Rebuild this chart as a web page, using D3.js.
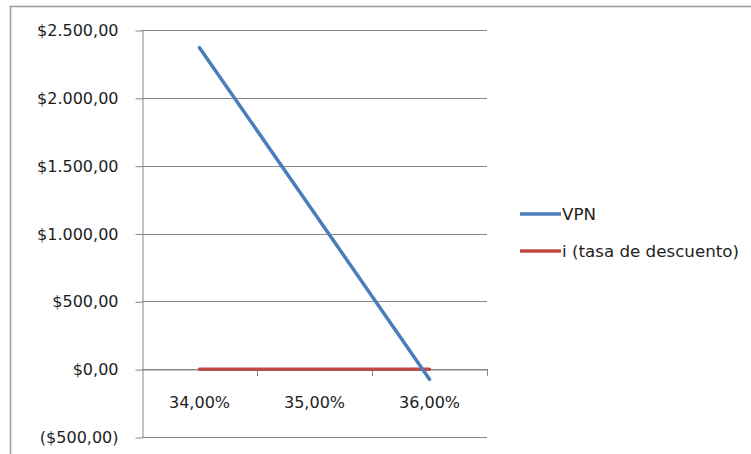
<!DOCTYPE html>
<html>
<head>
<meta charset="utf-8">
<script src="https://cdn.jsdelivr.net/npm/d3@7"></script>
<style>
  body { margin: 0; background: #fff; }
  svg text { font-family: "DejaVu Sans", sans-serif; fill: #1e1e1e; }
</style>
</head>
<body>
<div id="chart"></div>
<script>
// chart data
const categories = ['34,00%', '35,00%', '36,00%'];
const vpnValues = [2370, 1150, -75];
const rateValues = [0, 0, 0];
const yTicks = [-500, 0, 500, 1000, 1500, 2000, 2500];
const seriesNames = ['VPN', 'i (tasa de descuento)'];

const width = 751;
const height = 454;

const svg = d3.select('#chart')
  .append('svg')
  .attr('width', width)
  .attr('height', height);

// outer chart border (runs off the right and bottom edge)
svg.append('rect')
  .attr('x', 10.5)
  .attr('y', 6.5)
  .attr('width', 800)
  .attr('height', 500)
  .attr('fill', 'none')
  .attr('stroke', '#9a9a9a')
  .attr('stroke-width', 1.5);

const plot = { left: 142, right: 487, top: 30, bottom: 437 };

const x = d3.scaleBand()
  .domain(categories)
  .range([plot.left, plot.right]);

const y = d3.scaleLinear()
  .domain([-500, 2500])
  .range([plot.bottom, plot.top]);

const fmtMoney = v => {
  const s = '$' + d3.format(',.2f')(Math.abs(v)).replace(/,/g, '#').replace('.', ',').replace(/#/g, '.');
  return v < 0 ? '(' + s + ')' : s;
};

// horizontal gridlines
svg.append('g')
  .selectAll('line')
  .data(yTicks)
  .enter()
  .append('line')
  .attr('x1', plot.left)
  .attr('x2', plot.right)
  .attr('y1', d => Math.round(y(d)) + 0.5)
  .attr('y2', d => Math.round(y(d)) + 0.5)
  .attr('stroke', '#878787')
  .attr('stroke-width', 1);

// y axis
const yAxis = svg.append('g')
  .attr('transform', 'translate(' + (plot.left + 0.5) + ',0)')
  .call(d3.axisLeft(y).tickValues(yTicks).tickFormat(fmtMoney).tickSizeInner(7).tickSizeOuter(0).tickPadding(17));
yAxis.selectAll('path, line').attr('stroke', '#878787');
yAxis.selectAll('line').attr('transform', 'translate(0,0.5)');
yAxis.selectAll('text').style('font-size', '16px').attr('dy', '0.35em');

// x axis sits on zero
const xAxis = svg.append('g')
  .attr('transform', 'translate(0,' + (Math.round(y(0)) + 0.5) + ')')
  .call(d3.axisBottom(x).tickSize(0).tickPadding(27));
xAxis.select('.domain').attr('stroke', '#878787');
xAxis.selectAll('text').style('font-size', '16px');

// category boundary tick marks
svg.append('g')
  .selectAll('line')
  .data(categories)
  .enter()
  .append('line')
  .attr('x1', d => Math.round(x(d) + x.bandwidth()) + 0.5)
  .attr('x2', d => Math.round(x(d) + x.bandwidth()) + 0.5)
  .attr('y1', Math.round(y(0)))
  .attr('y2', Math.round(y(0)) + 7)
  .attr('stroke', '#878787');

const line = d3.line()
  .x((d, i) => x(categories[i]) + x.bandwidth() / 2)
  .y(d => y(d));

const series = [
  { name: seriesNames[0], values: vpnValues, color: '#4a7ebb' },
  { name: seriesNames[1], values: rateValues, color: '#be4b48' }
];

// draw the red line first, blue on top
[series[1], series[0]].forEach(s => {
  svg.append('path')
    .datum(s.values)
    .attr('d', line)
    .attr('fill', 'none')
    .attr('stroke', s.color)
    .attr('stroke-width', 3.5)
    .attr('stroke-linecap', 'round');
});

// legend
const legend = svg.append('g')
  .selectAll('g')
  .data(series)
  .enter()
  .append('g')
  .attr('transform', (d, i) => 'translate(520,' + (214 + i * 37) + ')');

legend.append('line')
  .attr('x1', 0)
  .attr('x2', 41)
  .attr('stroke', d => d.color)
  .attr('stroke-width', 3.5);

legend.append('text')
  .attr('x', 42)
  .attr('dy', '0.35em')
  .style('font-size', '16.7px')
  .text(d => d.name);
</script>
</body>
</html>
